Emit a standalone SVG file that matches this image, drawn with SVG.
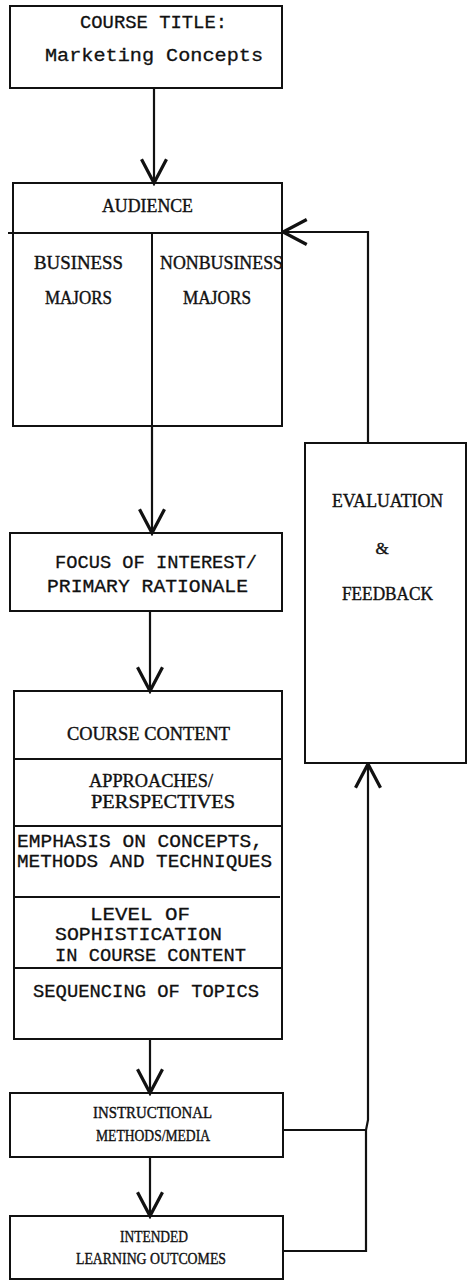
<svg xmlns="http://www.w3.org/2000/svg" width="469" height="1281" viewBox="0 0 469 1281">
<style>
.box{fill:#fff;stroke:#111;stroke-width:2}
.ln{fill:none;stroke:#111;stroke-width:2}
.con{fill:none;stroke:#111;stroke-width:2.2}
.m{font-family:"Liberation Mono",monospace;font-size:19px;fill:#111;stroke:#111;stroke-width:0.3}
.s{font-family:"Liberation Serif",serif;font-size:19px;fill:#111;stroke:#111;stroke-width:0.4}
.s2{font-family:"Liberation Serif",serif;font-size:17px;fill:#111;stroke:#111;stroke-width:0.4}
</style>
<defs>
<marker id="ah" markerUnits="userSpaceOnUse" markerWidth="30" markerHeight="30" viewBox="-22 -12 24 24" refX="0" refY="0" orient="auto">
<path d="M-19,-10 L0,0 L-19,10" fill="none" stroke="#111" stroke-width="2.6"/>
</marker>
</defs>
<rect width="469" height="1281" fill="#fff"/>
<g id="course-title">
<rect class="box" x="10" y="6" width="272" height="82"/>
<text class="m" x="80" y="28" textLength="147" lengthAdjust="spacingAndGlyphs">COURSE TITLE:</text>
<text class="m" x="45" y="61" textLength="218" lengthAdjust="spacingAndGlyphs">Marketing Concepts</text>
</g>
<g id="audience">
<rect class="box" x="13" y="183" width="269" height="243"/>
<line class="ln" x1="8" y1="233" x2="282" y2="233"/>
<line class="ln" x1="152" y1="233" x2="152" y2="426"/>
<text class="s" x="102" y="212" textLength="91" lengthAdjust="spacingAndGlyphs">AUDIENCE</text>
<text class="s" x="34" y="269" textLength="89" lengthAdjust="spacingAndGlyphs">BUSINESS</text>
<text class="s" x="45" y="304" textLength="67" lengthAdjust="spacingAndGlyphs">MAJORS</text>
<text class="s" x="160" y="269" textLength="123" lengthAdjust="spacingAndGlyphs">NONBUSINESS</text>
<text class="s" x="183" y="304" textLength="68" lengthAdjust="spacingAndGlyphs">MAJORS</text>
</g>
<g id="focus">
<rect class="box" x="10" y="533" width="272" height="78"/>
<text class="m" x="55" y="568" textLength="202" lengthAdjust="spacingAndGlyphs">FOCUS OF INTEREST/</text>
<text class="m" x="47" y="592" textLength="201" lengthAdjust="spacingAndGlyphs">PRIMARY RATIONALE</text>
</g>
<g id="course-content">
<rect class="box" x="14" y="691" width="268" height="348"/>
<line class="ln" x1="14" y1="759" x2="282" y2="759"/>
<line class="ln" x1="14" y1="826" x2="282" y2="826"/>
<line class="ln" x1="14" y1="897" x2="280" y2="897"/>
<line class="ln" x1="14" y1="968" x2="282" y2="968"/>
<text class="s" x="67" y="740" textLength="163" lengthAdjust="spacingAndGlyphs">COURSE CONTENT</text>
<text class="s" x="89" y="787" textLength="124" lengthAdjust="spacingAndGlyphs">APPROACHES/</text>
<text class="s" x="91" y="808" textLength="144" lengthAdjust="spacingAndGlyphs">PERSPECTIVES</text>
<text class="m" x="17" y="847" textLength="246" lengthAdjust="spacingAndGlyphs">EMPHASIS ON CONCEPTS,</text>
<text class="m" x="17" y="867" textLength="255" lengthAdjust="spacingAndGlyphs">METHODS AND TECHNIQUES</text>
<text class="m" x="90" y="920" textLength="100" lengthAdjust="spacingAndGlyphs">LEVEL OF</text>
<text class="m" x="55" y="940" textLength="167" lengthAdjust="spacingAndGlyphs">SOPHISTICATION</text>
<text class="m" x="55" y="961" textLength="191" lengthAdjust="spacingAndGlyphs">IN COURSE CONTENT</text>
<text class="m" x="33" y="997" textLength="226" lengthAdjust="spacingAndGlyphs">SEQUENCING OF TOPICS</text>
</g>
<g id="instructional">
<rect class="box" x="10" y="1093" width="273" height="64"/>
<text class="s2" x="93" y="1118" textLength="119" lengthAdjust="spacingAndGlyphs">INSTRUCTIONAL</text>
<text class="s2" x="96" y="1141" textLength="114" lengthAdjust="spacingAndGlyphs">METHODS/MEDIA</text>
</g>
<g id="outcomes">
<rect class="box" x="10" y="1216" width="273" height="63"/>
<text class="s2" x="120" y="1242" textLength="68" lengthAdjust="spacingAndGlyphs">INTENDED</text>
<text class="s2" x="76" y="1264" textLength="150" lengthAdjust="spacingAndGlyphs">LEARNING OUTCOMES</text>
</g>
<g id="evaluation">
<rect class="box" x="305" y="443" width="161" height="320"/>
<text class="s" x="332" y="507" textLength="111" lengthAdjust="spacingAndGlyphs">EVALUATION</text>
<text class="s2" x="382" y="554" text-anchor="middle">&amp;</text>
<text class="s" x="342" y="600" textLength="91" lengthAdjust="spacingAndGlyphs">FEEDBACK</text>
</g>
<g id="connectors">
<line class="con" x1="154" y1="88" x2="154" y2="183" marker-end="url(#ah)"/>
<line class="con" x1="152" y1="426" x2="152" y2="533" marker-end="url(#ah)"/>
<line class="con" x1="150" y1="611" x2="150" y2="691" marker-end="url(#ah)"/>
<line class="con" x1="150" y1="1039" x2="150" y2="1093" marker-end="url(#ah)"/>
<line class="con" x1="150" y1="1157" x2="150" y2="1216" marker-end="url(#ah)"/>
<path class="con" d="M368,443 V232 H283" marker-end="url(#ah)"/>
<path class="con" d="M283,1251 H366 V1130 L368,1120 V764" marker-end="url(#ah)"/>
<line class="con" x1="283" y1="1130" x2="367" y2="1130"/>
</g>
</svg>
